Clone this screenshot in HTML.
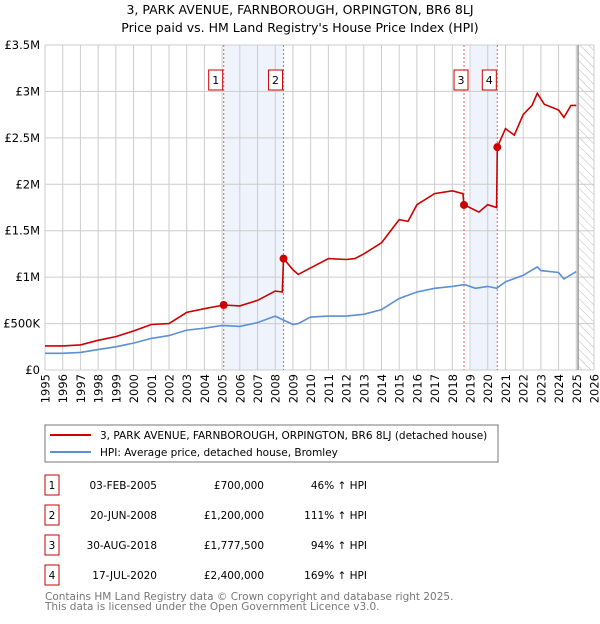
<!DOCTYPE html>
<html><head><meta charset="utf-8"><style>
body{margin:0;background:#fff;width:600px;height:620px;overflow:hidden;font-family:"DejaVu Sans","Liberation Sans",sans-serif}
svg text{font-family:"DejaVu Sans","Liberation Sans",sans-serif}
</style></head><body>
<svg id="chart" width="600" height="620">
<defs><pattern id="hatch" width="6" height="6" patternUnits="userSpaceOnUse" patternTransform="rotate(-45)"><line x1="0" y1="0" x2="0" y2="6" stroke="#bbb" stroke-width="1"/></pattern></defs>
<text x="300" y="14" text-anchor="middle" font-size="12.5">3, PARK AVENUE, FARNBOROUGH, ORPINGTON, BR6 8LJ</text>
<text x="300" y="32" text-anchor="middle" font-size="12.5">Price paid vs. HM Land Registry's House Price Index (HPI)</text>
<g id="grid"></g><g id="marks"></g>
<rect x="45" y="425" width="453" height="37" fill="#fff" stroke="#777"/>
<line x1="50" y1="435" x2="91" y2="435" stroke="#cc0000" stroke-width="2"/>
<text x="100" y="439" font-size="10.5">3, PARK AVENUE, FARNBOROUGH, ORPINGTON, BR6 8LJ (detached house)</text>
<line x1="50" y1="452" x2="91" y2="452" stroke="#5b8fd6" stroke-width="2"/>
<text x="100" y="456" font-size="10.5">HPI: Average price, detached house, Bromley</text>
<g id="table" font-size="10.5"></g>
<text x="45" y="600" font-size="10.5" fill="#777">Contains HM Land Registry data © Crown copyright and database right 2025.</text>
<text x="45" y="610" font-size="10.5" fill="#777">This data is licensed under the Open Government Licence v3.0.</text>
</svg>
<script>
const hpiYears=[1995,1996,1997,1998,1999,2000,2001,2002,2003,2004,2005,2006,2007,2008,2009,2009.3,2010,2011,2012,2013,2014,2015,2016,2017,2018,2018.7,2019.3,2020,2020.5,2021,2022,2022.8,2023,2024,2024.3,2025];
const hpiValues=[0.18,0.18,0.19,0.22,0.25,0.29,0.34,0.37,0.43,0.45,0.48,0.47,0.51,0.58,0.49,0.50,0.57,0.58,0.58,0.60,0.65,0.77,0.84,0.88,0.90,0.92,0.88,0.90,0.88,0.95,1.02,1.11,1.07,1.05,0.98,1.06];
const priceYears=[1995,1996,1997,1998,1999,2000,2001,2002,2003,2004,2005.09,2006,2007,2008,2008.4,2008.47,2009,2009.3,2010,2011,2012,2012.5,2013,2014,2015,2015.5,2016,2017,2018,2018.6,2018.66,2019.5,2020,2020.5,2020.54,2021,2021.5,2022,2022.5,2022.8,2023.2,2024,2024.3,2024.7,2025];
const priceValues=[0.26,0.26,0.27,0.32,0.36,0.42,0.49,0.50,0.62,0.66,0.70,0.69,0.75,0.85,0.84,1.2,1.08,1.03,1.10,1.20,1.19,1.20,1.25,1.37,1.62,1.60,1.78,1.90,1.93,1.90,1.78,1.70,1.78,1.75,2.4,2.6,2.53,2.75,2.85,2.98,2.86,2.80,2.72,2.85,2.85];
const saleLabels=["1","2","3","4"];
const saleYears=[2005.09,2008.47,2018.66,2020.54];
const saleValues=[0.70,1.20,1.7775,2.40];
const saleDates=["03-FEB-2005","20-JUN-2008","30-AUG-2018","17-JUL-2020"];
const salePrices=["£700,000","£1,200,000","£1,777,500","£2,400,000"];
const saleHpi=["46% ↑ HPI","111% ↑ HPI","94% ↑ HPI","169% ↑ HPI"];
const yTicks=[0,0.5,1,1.5,2,2.5,3,3.5];
const yTickLabels=["£0","£500K","£1M","£1.5M","£2M","£2.5M","£3M","£3.5M"];
const X0=45,X1=594,Y0=370,Y1=45;
const xs=y=>X0+(y-1995)/(2026-1995)*(X1-X0);
const ys=v=>Y0-v/3.5*(Y0-Y1);
const NS="http://www.w3.org/2000/svg";
function mk(p,t,a){const e=document.createElementNS(NS,t);for(const k in a)e.setAttribute(k,a[k]);p.appendChild(e);return e;}
const g=document.getElementById('grid'),m=document.getElementById('marks'),tb=document.getElementById('table');
let s=mk(g,'rect',{x:xs(saleYears[0]),y:Y1,width:xs(saleYears[1])-xs(saleYears[0]),height:Y0-Y1,fill:'#eef3fc'});


s=mk(g,'rect',{x:xs(2019.05),y:Y1,width:xs(saleYears[3])-xs(2019.05),height:Y0-Y1,fill:'#eef3fc'});


s=mk(g,'rect',{x:xs(2025.1),y:Y1,width:X1-xs(2025.1),height:Y0-Y1,fill:'url(#hatch)'});


for(let yr=1995;yr<=2026;yr++){
 const x=xs(yr);
 const l=mk(g,'line',{x1:x,x2:x,y1:Y1,y2:Y0,stroke:'#ccc'});
 
 
 const t=mk(g,'text',{x:0,y:0,'text-anchor':'end','font-size':'11.5',transform:'translate('+(x+4.5)+',374) rotate(-90)'});
 t.textContent=yr;
 
 
}
yTicks.forEach((v,i)=>{
 const y=ys(v);
 const l=mk(g,'line',{x1:X0,x2:X1,y1:y,y2:y,stroke:'#ccc'});
 
 
 const t=mk(g,'text',{x:40,y:y+4,'text-anchor':'end','font-size':'11.5'});
 t.textContent=yTickLabels[i];
 
 
});
let vl=mk(g,'line',{x1:xs(2025.1),x2:xs(2025.1),y1:Y1,y2:Y0,stroke:'#999','stroke-width':1.5});


saleYears.forEach((yr,i)=>{
 const x=xs(yr);
 const l=mk(m,'line',{x1:x,x2:x,y1:Y1,y2:Y0,stroke:'#e06060','stroke-dasharray':'2,2'});
 
 
 const bx=(i==2)?x-10:x-15;
 const r=mk(m,'rect',{x:bx,y:70,width:14,height:20,fill:'#fff',stroke:'#cc0000'});
 
 
 const t=mk(m,'text',{x:bx+7,y:84,'text-anchor':'middle','font-size':'11'});
 t.textContent=saleLabels[i];
 
 
});
const pts=(X,V)=>X.map((yr,i)=>xs(yr).toFixed(1)+','+ys(V[i]).toFixed(1)).join(' ');
let hl=mk(m,'polyline',{points:pts(hpiYears,hpiValues),fill:'none',stroke:'#5b8fd6','stroke-width':1.6});


let pl=mk(m,'polyline',{points:pts(priceYears,priceValues),fill:'none',stroke:'#cc0000','stroke-width':1.6});


saleYears.forEach((yr,i)=>{
 const c=mk(m,'circle',{cx:xs(yr),cy:ys(saleValues[i]),r:4,fill:'#cc0000'});
 
 
 const y0=475+i*30;
 const r=mk(tb,'rect',{x:45,y:y0,width:14,height:20,fill:'#fff',stroke:'#cc0000'});
 
 
 const tx=[[52,'middle',saleLabels[i]],[157,'end',saleDates[i]],[264,'end',salePrices[i]],[367,'end',saleHpi[i]]];
 tx.forEach(a=>{
  const t=mk(tb,'text',{x:a[0],y:y0+14,'text-anchor':a[1]});
  t.textContent=a[2];
  
  
 });
});
</script>
</body></html>
